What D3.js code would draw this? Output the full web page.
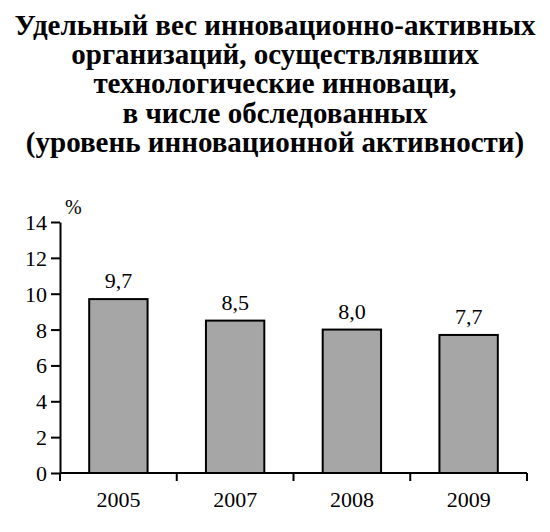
<!DOCTYPE html>
<html>
<head>
<meta charset="utf-8">
<script src="https://cdn.jsdelivr.net/npm/d3@7"></script>
<style>
  body { margin: 0; background: #fff; }
</style>
</head>
<body>
<svg width="550" height="532"></svg>
<script>
var titleLines = [
  "Удельный вес инновационно-активных",
  "организаций, осуществлявших",
  "технологические инноваци,",
  "в числе обследованных",
  "(уровень инновационной активности)"
];
var years = ["2005", "2007", "2008", "2009"];
var values = [9.7, 8.5, 8.0, 7.7];
var yTicks = [0, 2, 4, 6, 8, 10, 12, 14];

var FONT = "'Liberation Serif', 'Times New Roman', serif";

var margin = {top: 222, right: 23, bottom: 59, left: 60},
    width = 550 - margin.left - margin.right,
    height = 532 - margin.top - margin.bottom;

var svg = d3.select("svg");

// title
svg.append("g").selectAll("text")
    .data(titleLines)
    .enter().append("text")
    .attr("x", 275)
    .attr("y", function(d, i) { return 35 + i * 29.2; })
    .attr("text-anchor", "middle")
    .style("font-family", FONT)
    .style("font-size", "29px")
    .style("font-weight", "bold")
    .text(function(d) { return d; });

var g = svg.append("g").attr("transform", "translate(" + margin.left + "," + margin.top + ")");

var xScale = d3.scaleBand()
    .domain(years)
    .range([0, width])
    .paddingInner(0.5)
    .paddingOuter(0.25);

var yScale = d3.scaleLinear()
    .domain([0, 14])
    .range([height, 0]);

// bars
g.selectAll("rect")
    .data(values)
    .enter().append("rect")
    .attr("x", function(d, i) { return xScale(years[i]); })
    .attr("y", function(d) { return yScale(d); })
    .attr("width", xScale.bandwidth())
    .attr("height", function(d) { return height - yScale(d); })
    .style("fill", "#a6a6a6")
    .style("stroke", "#000")
    .style("stroke-width", 2);

// value labels
g.selectAll(".val")
    .data(values)
    .enter().append("text")
    .attr("class", "val")
    .attr("x", function(d, i) { return xScale(years[i]) + xScale.bandwidth() / 2; })
    .attr("y", function(d) { return yScale(d) - 11; })
    .attr("text-anchor", "middle")
    .style("font-family", FONT)
    .style("font-size", "22px")
    .text(function(d) { return d.toFixed(1).replace(".", ","); });

// y axis
var yAxis = g.append("g")
    .call(d3.axisLeft(yScale).tickValues(yTicks).tickSize(9).tickPadding(4).tickSizeOuter(0));
yAxis.attr("font-family", null).attr("font-size", null);
yAxis.select(".domain").style("stroke-width", 2);
yAxis.selectAll(".tick line").style("stroke-width", 2);
yAxis.selectAll(".tick text")
    .style("font-family", FONT)
    .style("font-size", "22px")
    .attr("dy", "0.34em");

// x axis: ticks at band boundaries
var xAxis = g.append("g")
    .attr("transform", "translate(0," + height + ")");
xAxis.append("line")
    .attr("x1", 0).attr("x2", width)
    .style("stroke", "#000").style("stroke-width", 2);
var bounds = [0].concat(years.map(function(y) { return xScale(y) + xScale.bandwidth() + xScale.step() * xScale.paddingInner() / 2; }));
bounds[bounds.length - 1] = width;
xAxis.selectAll(".xt")
    .data(bounds)
    .enter().append("line")
    .attr("class", "xt")
    .attr("x1", function(d) { return d; }).attr("x2", function(d) { return d; })
    .attr("y1", 0).attr("y2", 8)
    .style("stroke", "#000").style("stroke-width", 2);
xAxis.selectAll(".xl")
    .data(years)
    .enter().append("text")
    .attr("class", "xl")
    .attr("x", function(d) { return xScale(d) + xScale.bandwidth() / 2; })
    .attr("y", 34)
    .attr("text-anchor", "middle")
    .style("font-family", FONT)
    .style("font-size", "22px")
    .text(function(d) { return d; });

// unit label
g.append("text")
    .attr("x", 5)
    .attr("y", -8)
    .style("font-family", FONT)
    .style("font-size", "20px")
    .text("%");
</script>
</body>
</html>
